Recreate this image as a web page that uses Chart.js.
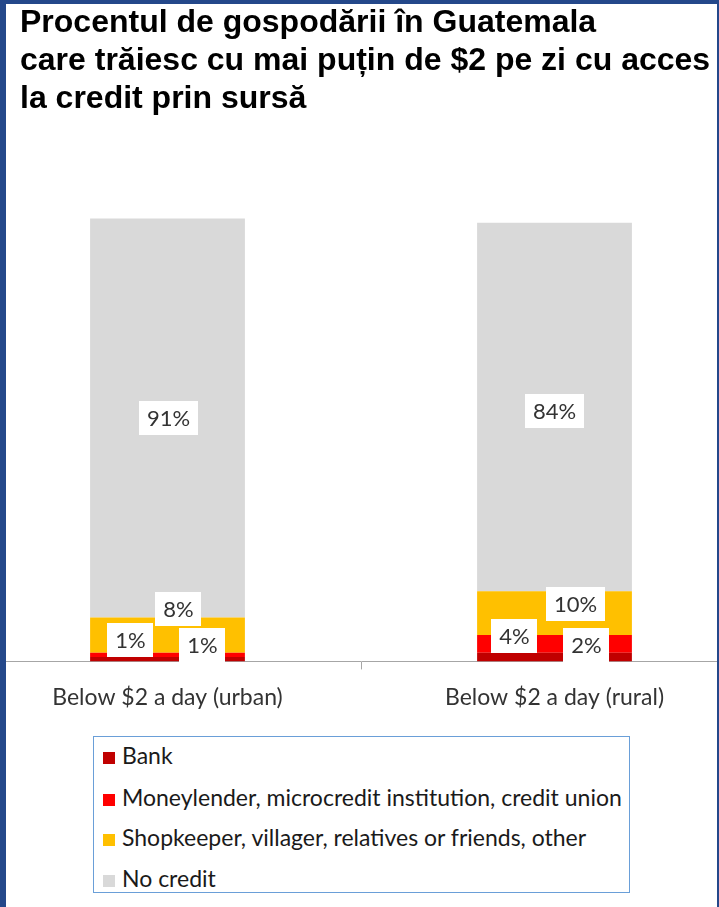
<!DOCTYPE html>
<html>
<head>
<meta charset="utf-8">
<script src="https://cdn.jsdelivr.net/npm/chart.js@4.4.1/dist/chart.umd.min.js"></script>
<style>
  html, body { margin: 0; padding: 0; background: #fff; }
  #page { position: relative; width: 719px; height: 907px; overflow: hidden; background: #fff; }
  .bd { position: absolute; background: #24488a; z-index: 5; }
  #title { position: absolute; left: 20px; top: 2px; font-family: "Liberation Sans", Arial, sans-serif; font-weight: bold; font-size: 32px; line-height: 38px; color: #000; white-space: nowrap; z-index: 3; }
  #wrap { position: absolute; left: -26px; top: 0px; width: 774px; height: 725px; }
  #legend { position: absolute; left: 93px; top: 736px; width: 535px; height: 155px; border: 1px solid #6a9fd8; background: #fff; font-family: Lato, "Open Sans", sans-serif; font-size: 23px; color: #1a1a1a; }
  .li { position: absolute; left: 9px; height: 26px; line-height: 26px; white-space: nowrap; }
  .sw { display: inline-block; width: 12px; height: 12px; margin-right: 7px; vertical-align: 0px; }
</style>
</head>
<body>
<div id="page">
  <div class="bd" style="left:0;top:0;width:6px;height:907px;"></div>
  <div class="bd" style="left:0;top:0;width:719px;height:4px;"></div>
  <div class="bd" style="left:717px;top:0;width:2px;height:907px;"></div>
  <div id="title">Procentul de gospodării în Guatemala<br>care trăiesc cu mai puțin de $2 pe zi cu acces<br>la credit prin sursă</div>
  <div id="wrap"><canvas id="c" width="774" height="725"></canvas></div>
  <div id="legend"></div>
</div>
<script>
// ---- data ----
const categories = ['Below $2 a day (urban)', 'Below $2 a day (rural)'];
const seriesNames = ['Bank', 'Moneylender, microcredit institution, credit union', 'Shopkeeper, villager, relatives or friends, other', 'No credit'];
const bank = [1, 2];
const moneylender = [1, 4];
const shopkeeper = [8, 10];
const noCredit = [91, 84];

// ---- styles ----
const colors = ['#c00000', '#ff0000', '#ffc000', '#d9d9d9'];
// manual label placements (px offsets from segment centre), per series, per category
const labelOffsets = [
  [[35, -14], [32, -12]],
  [[-37, -15], [-40, -8]],
  [[11, -26], [21, -9]],
  [[1, 0], [0, 4]]
];

const seriesData = [bank, moneylender, shopkeeper, noCredit];

const boxLabels = {
  id: 'boxLabels',
  afterDatasetsDraw(chart) {
    const ctx = chart.ctx;
    ctx.save();
    ctx.font = '22px Lato';
    ctx.textAlign = 'center';
    ctx.textBaseline = 'middle';
    chart.data.datasets.forEach((ds, i) => {
      const meta = chart.getDatasetMeta(i);
      meta.data.forEach((el, j) => {
        const txt = ds.data[j] + '%';
        const off = labelOffsets[i][j];
        const cx = el.x + off[0];
        const cy = (el.y + el.base) / 2 + off[1];
        const w = ctx.measureText(txt).width + 16;
        const h = 34;
        ctx.fillStyle = '#ffffff';
        ctx.fillRect(Math.round(cx - w / 2), Math.round(cy - h / 2), Math.round(w), h);
        ctx.fillStyle = '#333333';
        ctx.fillText(txt, cx, cy + 1);
      });
    });
    ctx.restore();
  }
};

const chart = new Chart(document.getElementById('c'), {
  type: 'bar',
  data: {
    labels: categories,
    datasets: seriesData.map((d, i) => ({
      label: seriesNames[i],
      data: d,
      backgroundColor: colors[i],
      borderWidth: 0,
      categoryPercentage: 1.0,
      barPercentage: 0.4
    }))
  },
  options: {
    responsive: false,
    animation: false,
    devicePixelRatio: 1,
    layout: { padding: { top: 179, left: 0, right: 0, bottom: 0 } },
    plugins: { legend: { display: false }, title: { display: false }, tooltip: { enabled: false } },
    scales: {
      x: {
        stacked: true,
        offset: true,
        grid: { display: true, offset: true, drawOnChartArea: false, drawTicks: true, tickLength: 8, color: '#a6a6a6', lineWidth: 1 },
        border: { display: true, color: '#a6a6a6', width: 1 },
        ticks: { color: '#333333', font: { family: 'Lato', size: 23 }, padding: 14, maxRotation: 0 }
      },
      y: { stacked: true, display: false, min: 0, max: 110 }
    }
  },
  plugins: [boxLabels]
});

// legend built from the chart's datasets
const lg = document.getElementById('legend');
const rowTops = [5, 47, 87, 128];
chart.data.datasets.forEach((ds, i) => {
  const d = document.createElement('div');
  d.className = 'li';
  d.style.top = rowTops[i] + 'px';
  const s = document.createElement('span');
  s.className = 'sw';
  s.style.background = ds.backgroundColor;
  d.appendChild(s);
  d.appendChild(document.createTextNode(ds.label));
  lg.appendChild(d);
});
</script>
</body>
</html>
